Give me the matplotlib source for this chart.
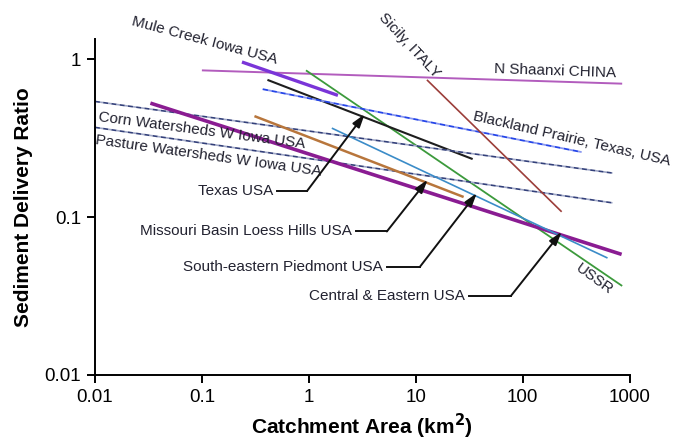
import matplotlib
matplotlib.use('Agg')
import matplotlib.pyplot as plt
import numpy as np

plt.rcParams['font.family'] = ['Liberation Sans', 'DejaVu Sans']

# each relation is a straight line in log-log space: two end points
names = ['N Shaanxi CHINA', 'Mule Creek Iowa USA', 'USSR', 'Texas USA',
         'Blackland Prairie, Texas, USA', 'Corn Watersheds W Iowa USA',
         'Pasture Watersheds W Iowa USA', 'Central & Eastern USA',
         'Missouri Basin Loess Hills USA', 'South-eastern Piedmont USA',
         'Sicily, ITALY']
area_start = [0.1, 0.237, 0.94, 0.41, 0.37, 0.01, 0.01, 0.033, 0.31, 1.64, 12.7]
area_end = [850, 1.87, 850, 34, 355, 690, 690, 840, 28, 620, 231]
sdr_start = [0.85, 0.96, 0.85, 0.74, 0.646, 0.54, 0.37, 0.527, 0.436, 0.366, 0.74]
sdr_end = [0.70, 0.59, 0.0366, 0.233, 0.258, 0.19, 0.123, 0.058, 0.134, 0.055, 0.108]

colors = ['#b25cbd', '#7a35d8', '#3c9a3c', '#1e1e1e', '#2545e8', '#33407a',
          '#33407a', '#8a1c92', '#b8763c', '#3b8cc8', '#9c3e3a']
widths = [1.4, 2.4, 1.3, 1.5, 1.3, 1.2, 1.2, 2.6, 1.8, 1.2, 1.2]
gaps = [None, None, None, None, '#8a98f0', '#a0a8c8', '#a0a8c8', None, None, None, None]

fig = plt.figure(figsize=(6.83, 4.40), dpi=100)
ax = fig.add_axes([0.139, 0.148, 0.783, 0.763])

for i in range(len(names)):
    if gaps[i] is None:
        ax.plot([area_start[i], area_end[i]], [sdr_start[i], sdr_end[i]],
                color=colors[i], lw=widths[i], solid_capstyle='butt')
    else:
        ax.plot([area_start[i], area_end[i]], [sdr_start[i], sdr_end[i]],
                color=colors[i], lw=widths[i], linestyle=(0, (3, 2)),
                gapcolor=gaps[i])

ax.set_xscale('log')
ax.set_yscale('log')
ax.set_xlim(0.01, 1000)
ax.set_ylim(0.01, 1.34)
ax.set_xticks([0.01, 0.1, 1, 10, 100, 1000])
ax.set_xticklabels(['0.01', '0.1', '1', '10', '100', '1000'])
ax.set_yticks([0.01, 0.1, 1])
ax.set_yticklabels(['0.01', '0.1', '1'])
ax.minorticks_off()
for s in ['top', 'right']:
    ax.spines[s].set_visible(False)
for s in ['left', 'bottom']:
    ax.spines[s].set_linewidth(1.4)
ax.tick_params(direction='out', length=6, width=1.4, labelsize=13.5, pad=4)
ax.set_xlabel('Catchment Area (km$^\\mathbf{2}$)', fontsize=15, fontweight='bold')
ax.set_ylabel('Sediment Delivery Ratio', fontsize=15, fontweight='bold', labelpad=8)

tc = '#222230'
# rotated labels sitting by their lines
labels = [('Mule Creek Iowa USA', 0.107, 1.31, -15),
          ('Sicily, ITALY', 8.8, 1.22, -47),
          ('N Shaanxi CHINA', 199, 0.845, -2),
          ('Blackland Prairie, Texas, USA', 287, 0.312, -13),
          ('Corn Watersheds W Iowa USA', 0.099, 0.355, -7.5),
          ('Pasture Watersheds W Iowa USA', 0.115, 0.243, -8),
          ('USSR', 471, 0.0405, -36)]
for txt, x, y, rot in labels:
    ax.text(x, y, txt, fontsize=11, color=tc, rotation=rot,
            rotation_mode='anchor', ha='center', va='center')


def on_line(k, x):
    lx = np.log10([area_start[k], area_end[k]])
    ly = np.log10([sdr_start[k], sdr_end[k]])
    return 10 ** np.interp(np.log10(x), lx, ly)


# callouts: label end, elbow, arrow tip on the line
callouts = [(3, 0.46, 0.96, 0.146, 3.33),
            (8, 2.52, 5.36, 0.081, 12.9),
            (9, 4.92, 10.9, 0.0483, 37.2),
            (7, 28.7, 77.3, 0.0316, 231)]
for k, xt, xe, y, xtip in callouts:
    ax.text(xt, y, names[k], fontsize=11, color=tc, ha='right', va='center')
    ax.plot([xt * 1.1, xe], [y, y], color='#111111', lw=1.4)
    ax.annotate('', xy=(xtip, on_line(k, xtip) * 1.05), xytext=(xe, y),
                arrowprops=dict(arrowstyle='-|>,head_length=0.8,head_width=0.25',
                                color='#111111', lw=1.4, shrinkA=0, shrinkB=0))

fig.savefig('out.png', dpi=100)
